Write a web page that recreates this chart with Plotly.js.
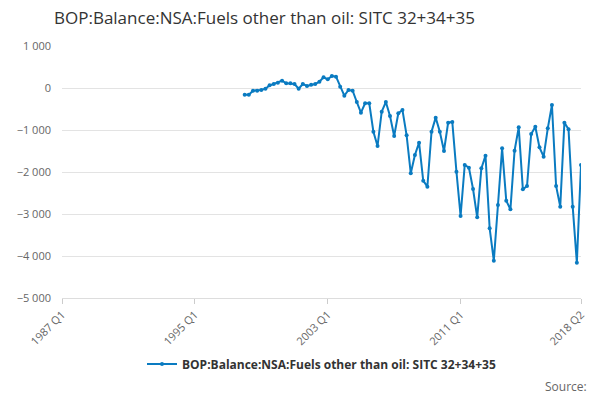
<!DOCTYPE html>
<html>
<head>
<meta charset="utf-8">
<script src="https://cdn.plot.ly/plotly-3.0.1.min.js"></script>
<style>body{margin:0}#chart{width:600px;height:400px}</style>
</head>
<body>
<div id="chart"></div>
<script>
// quarterly values, 1998 Q1 .. 2018 Q2
const values = [
	-160, -160, -64, -64, -48, -16, 63, 95, 127, 175,
	111, 111, 95, -16, 95, 48, 79, 95, 151, 254,
	206, 286, 270, 32, -183, -48, -64, -333, -587, -365,
	-365, -1040, -1381, -563, -333, -667, -1143, -603, -524, -1127,
	-2032, -1595, -1302, -2206, -2349, -1040, -706, -1040, -1500, -825,
	-810, -1992, -3048, -1833, -1897, -2405, -3079, -1913, -1611, -3341,
	-4111, -2786, -1437, -2683, -2889, -1492, -937, -2413, -2333, -1095,
	-921, -1413, -1635, -960, -405, -2333, -2825, -825, -984, -2825,
	-4159, -1833,
];
const startIndex = 44; // quarters since 1987 Q1
const tickVals = [0, 32, 64, 96, 125];
const tickText = ["1987 Q1", "1995 Q1", "2003 Q1", "2011 Q1", "2018 Q2"];
const seriesName = "BOP:Balance:NSA:Fuels other than oil: SITC 32+34+35";

const x = values.map((v, i) => startIndex + i);

const trace = {
	x: x,
	y: values,
	mode: "lines+markers",
	name: seriesName,
	line: { color: "#0a7bc1", width: 2 },
	marker: { color: "#0a7bc1", size: 4 },
};

const layout = {
	width: 600,
	height: 400,
	font: { family: "Open Sans, DejaVu Sans, sans-serif", color: "#666" },
	separators: ". ",
	title: {
		text: seriesName,
		x: 0.09, xanchor: "left", y: 0.97,
		font: { size: 17, color: "#333" },
	},
	margin: { l: 62, r: 19, t: 46, b: 102 },
	xaxis: {
		range: [0, 125],
		tickvals: tickVals,
		ticktext: tickText,
		tickangle: -45,
		showgrid: false,
		zeroline: false,
		ticks: "outside",
		ticklen: 5,
		tickcolor: "#ccc",
		showline: true,
		linecolor: "#ddd",
		tickfont: { size: 11 },
	},
	yaxis: {
		range: [-5000, 1000],
		dtick: 1000,
		gridcolor: "#e3e3e3",
		zeroline: false,
		tickfont: { size: 11 },
		tickformat: ",d",
		ticklabelstandoff: 10,
	},
	showlegend: true,
	legend: {
		orientation: "h",
		x: 0.5, xanchor: "center",
		yref: "container",
		y: 0.09, yanchor: "middle",
		font: { size: 12, color: "#333", weight: "bold" },
	},
	annotations: [{
		text: "Source:",
		xref: "paper", yref: "paper",
		x: 1.015, y: -0.31, xanchor: "right", yanchor: "top",
		showarrow: false,
		font: { size: 12, color: "#666" },
	}],
};

Plotly.newPlot("chart", [trace], layout, { displayModeBar: false });
</script>
</body>
</html>
